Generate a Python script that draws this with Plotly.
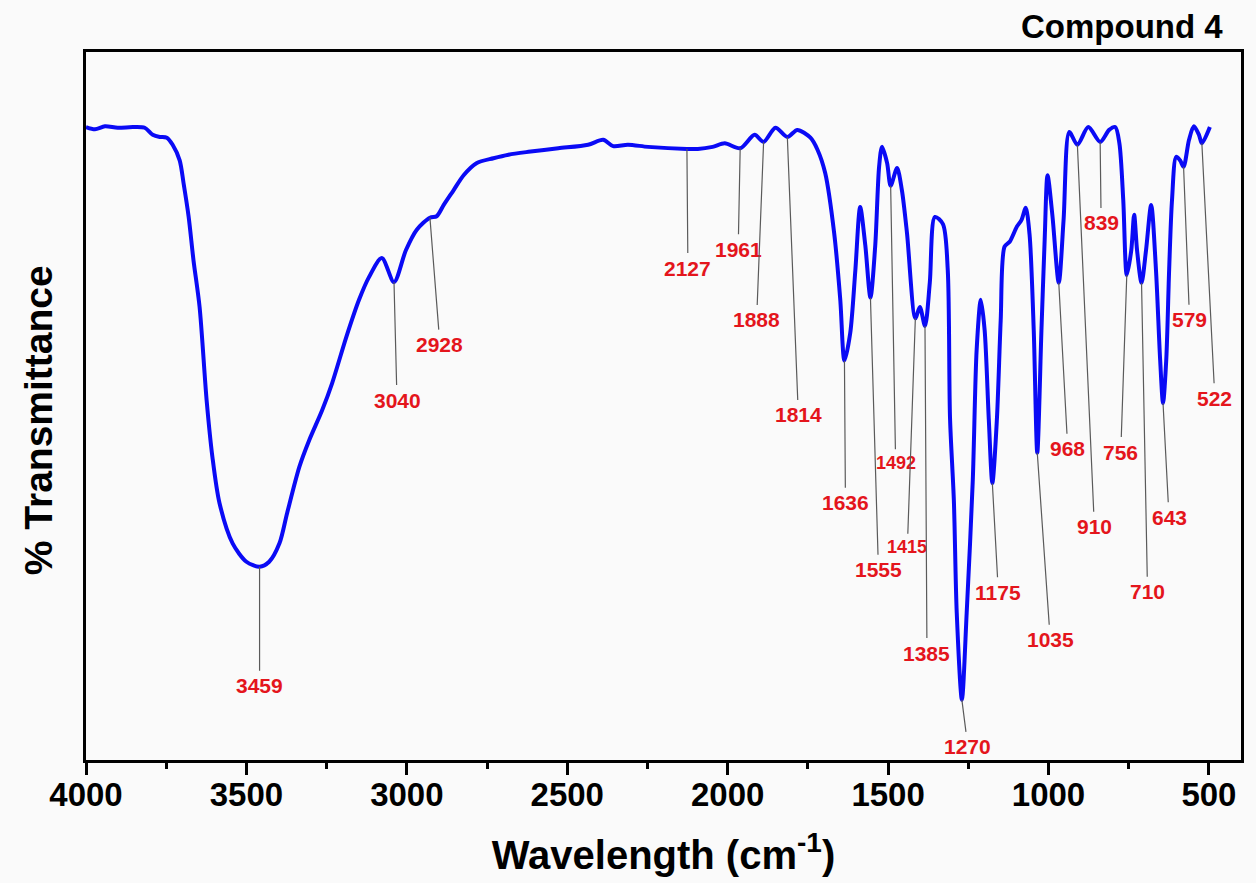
import numpy as np
import plotly.graph_objects as go

# FT-IR spectrum of compound 4: wavenumber (cm-1) and % transmittance
wavenumber = [
    4000, 3972, 3941, 3901, 3854, 3817, 3792, 3770, 3748, 3730, 3708, 3696, 3680, 3665,
    3646, 3624, 3606, 3584, 3543, 3500, 3459, 3429, 3397, 3373, 3335, 3304, 3264, 3233,
    3189, 3149, 3118, 3078, 3040, 3003, 2969, 2928, 2907, 2885, 2854, 2823, 2783, 2730,
    2683, 2621, 2528, 2435, 2388, 2357, 2311, 2248, 2127, 2093, 2047, 2009, 1961, 1916,
    1888, 1851, 1814, 1783, 1742, 1720, 1696, 1668, 1649, 1636, 1618, 1602, 1587, 1571,
    1555, 1540, 1528, 1519, 1503, 1492, 1472, 1457, 1441, 1415, 1401, 1385, 1370, 1354,
    1329, 1314, 1307, 1295, 1286, 1270, 1255, 1236, 1224, 1211, 1199, 1186, 1175, 1161,
    1149, 1137, 1121, 1099, 1084, 1071, 1059, 1046, 1035, 1022, 1012, 1003, 988, 968,
    953, 935, 910, 876, 839, 811, 792, 779, 767, 756, 742, 733, 724, 710, 696, 680,
    665, 652, 643, 633, 624, 615, 602, 590, 579, 562, 547, 531, 522, 497,
]
transmittance = [
    89.4, 89.1, 89.5, 89.3, 89.4, 89.3, 88.3, 88.0, 87.9, 86.9, 84.7, 81.5, 76.7, 70.6,
    64.0, 50.8, 42.8, 36.3, 30.6, 28.0, 27.3, 28.0, 30.6, 34.9, 41.4, 45.2, 49.4, 53.2,
    59.7, 65.0, 68.2, 70.9, 67.5, 72.0, 74.9, 76.6, 76.8, 78.4, 80.5, 82.6, 84.3, 85.0,
    85.5, 85.9, 86.4, 86.9, 87.6, 86.7, 86.9, 86.6, 86.3, 86.3, 86.6, 87.1, 86.4, 88.3,
    87.3, 89.3, 88.0, 89.0, 87.9, 86.2, 82.9, 74.4, 65.0, 56.4, 60.3, 69.2, 78.1, 72.7,
    65.3, 72.7, 83.8, 86.6, 84.3, 81.1, 83.6, 80.5, 74.4, 62.4, 64.0, 61.3, 67.4, 76.7,
    75.7, 69.2, 48.4, 36.7, 20.8, 8.5, 20.8, 39.5, 57.9, 65.0, 60.7, 48.0, 39.1, 48.0,
    62.1, 72.5, 73.2, 75.3, 76.3, 78.0, 74.2, 60.7, 43.4, 60.7, 73.4, 82.6, 77.0, 67.4,
    76.3, 88.7, 86.9, 89.4, 87.3, 89.0, 89.4, 87.1, 79.1, 68.5, 72.0, 77.0, 72.0, 67.4,
    72.0, 78.4, 69.2, 56.5, 50.4, 56.5, 69.2, 79.1, 85.2, 84.7, 83.8, 87.6, 89.5, 88.3,
    87.1, 89.4,
]

# Assigned bands
band_labels = [3459, 3040, 2928, 2127, 1961, 1888, 1814, 1636, 1555, 1492, 1415, 1385,
               1270, 1175, 1035, 968, 910, 839, 756, 710, 643, 579, 522]

# Leader-line offsets (pixels) from each band to its label, and label size
label_dx = [0, 3, 10, 1, -2, -7, 11, 1, 8, 5, -8, 2, 6, 6, 13, 9, 17, 1, -6, 6, 6, 6, 13]
label_dy = [119, 118, 127, 119, 101, 178, 278, 142, 272, 277, 229, 327, 47, 109, 187, 166,
            382, 81, 177, 309, 114, 153, 255]
small_labels = {1492, 1415}

x_ticks = [4000, 3500, 3000, 2500, 2000, 1500, 1000, 500]

FONT = "Liberation Sans"
wn_sorted = np.array(wavenumber[::-1], dtype=float)
t_sorted = np.array(transmittance[::-1], dtype=float)

fig = go.Figure()
fig.add_trace(go.Scatter(
    x=wavenumber, y=transmittance, mode="lines",
    line=dict(color="#0a0af5", width=4, shape="spline", smoothing=0.8),
    showlegend=False, hoverinfo="x+y",
))

annotations = []
for wn, dx, dy in zip(band_labels, label_dx, label_dy):
    t_val = float(np.interp(wn, wn_sorted, t_sorted))
    size = 18 if wn in small_labels else 21
    annotations.append(dict(
        x=wn, y=t_val, xref="x", yref="y",
        text=str(wn), showarrow=True, arrowhead=0, arrowwidth=1.2,
        arrowcolor="#5a5a5a", ax=dx, ay=dy, borderpad=3,
        font=dict(family=FONT, size=size, color="#e4151c", weight=700),
    ))

annotations.append(dict(
    text="% Transmittance", xref="paper", yref="paper",
    x=-0.0415, y=0.48, xanchor="center", yanchor="middle",
    textangle=-90, showarrow=False,
    font=dict(family=FONT, size=39, color="black", weight=700),
))
annotations.append(dict(
    text="Compound 4", xref="paper", yref="paper",
    x=0.986, y=1.036, xanchor="right", yanchor="middle", showarrow=False,
    font=dict(family=FONT, size=33, color="black", weight=700),
))

fig.update_layout(
    width=1256, height=883, autosize=False,
    margin=dict(l=86, r=12, t=52, b=123),
    paper_bgcolor="#fafafa", plot_bgcolor="#fafafa",
    annotations=annotations,
    xaxis=dict(
        range=[4000, 400], tickvals=x_ticks,
        ticks="outside", ticklen=12, tickwidth=3, tickcolor="black",
        ticklabelstandoff=-9,
        showline=True, linewidth=3, linecolor="black", mirror=True,
        showgrid=False, zeroline=False,
        tickfont=dict(family=FONT, size=33, color="black", weight=700),
        minor=dict(tick0=0, dtick=250, ticks="outside", ticklen=6, tickwidth=3,
                   tickcolor="black", showgrid=False),
        title=dict(text="Wavelength (cm<sup>-1</sup>)", standoff=30,
                   font=dict(family=FONT, size=40, color="black", weight=700)),
    ),
    yaxis=dict(
        range=[0, 100], showticklabels=False, ticks="",
        showline=True, linewidth=3, linecolor="black", mirror=True,
        showgrid=False, zeroline=False,
    ),
)

fig.write_html("out.html")
